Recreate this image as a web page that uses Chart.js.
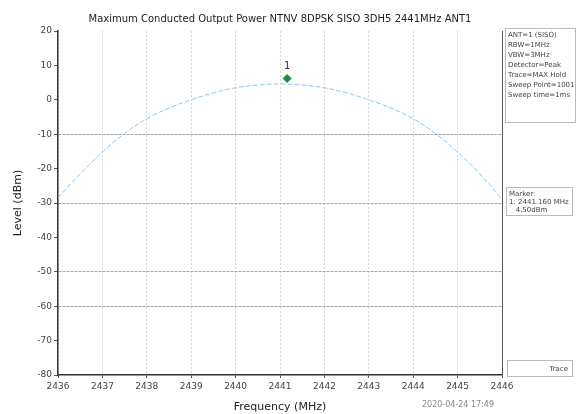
<!DOCTYPE html>
<html>
<head>
<meta charset="utf-8">
<script src="https://cdn.jsdelivr.net/npm/chart.js@4/dist/chart.umd.min.js"></script>
<style>
  body { margin: 0; background: #fff; }
  #wrap { width: 578px; height: 414px; }
</style>
</head>
<body>
<div id="wrap"><canvas id="myChart" width="578" height="414"></canvas></div>
<script>
// trace (MHz, dBm)
let freqs = [2436, 2436.5, 2437, 2437.5, 2438, 2438.5, 2439, 2439.5, 2440, 2440.5, 2441,
             2441.5, 2442, 2442.5, 2443, 2443.5, 2444, 2444.5, 2445, 2445.5, 2446];
let levels = [-28.5, -21.5, -15.2, -9.8, -5.5, -2.4, 0, 2, 3.5, 4.3, 4.6,
              4.3, 3.5, 2, 0, -2.4, -5.5, -9.8, -15.2, -21.5, -29];
let markerFreq = [2441.16];
let markerLevel = [6.2];
let xTicks = [2436, 2437, 2438, 2439, 2440, 2441, 2442, 2443, 2444, 2445, 2446];
let yTicks = [20, 10, 0, -10, -20, -30, -40, -50, -60, -70, -80];
let yGridShown = [-10, -30, -50, -60];
let infoLines = ['ANT=1 (SISO)', 'RBW=1MHz', 'VBW=3MHz', 'Detector=Peak', 'Trace=MAX Hold', 'Sweep Point=1001', 'Sweep time=1ms'];
let markerLines = ['Marker:', '1: 2441.160 MHz', '   4.50dBm'];

const titleText = 'Maximum Conducted Output Power NTNV 8DPSK SISO 3DH5 2441MHz ANT1';

const sidePanels = {
    id: 'sidePanels',
    afterDraw(chart) {
        const c = chart.ctx;
        const area = chart.chartArea;
        c.save();
        // title
        c.fillStyle = '#222';
        c.font = '10px "DejaVu Sans"';
        c.textAlign = 'center';
        c.textBaseline = 'middle';
        c.fillText(titleText, (area.left + area.right) / 2, 19);

        // info box
        c.strokeStyle = '#bbb';
        c.lineWidth = 1;
        c.strokeRect(505.5, 28.5, 70, 94);
        c.fillStyle = '#444';
        c.font = '7px "DejaVu Sans"';
        c.textAlign = 'left';
        infoLines.forEach((t, i) => c.fillText(t, 508, 35 + i * 10));

        // marker box
        c.strokeRect(506.5, 187.5, 66, 28);
        markerLines.forEach((t, i) => c.fillText(t, 509, 194 + i * 8, 62));

        // trace legend
        c.strokeRect(507.5, 360.5, 65, 16);
        c.textAlign = 'right';
        c.fillText('Trace', 568, 369);

        // timestamp
        c.font = '8px "DejaVu Sans"';
        c.fillStyle = '#888';
        c.textAlign = 'center';
        c.fillText('2020-04-24 17:49', 458, 405);

        // marker label
        const xs = chart.scales.x, ys = chart.scales.y;
        c.fillStyle = '#333';
        c.font = '10px "DejaVu Sans"';
        c.fillText('1', xs.getPixelForValue(markerFreq[0]), ys.getPixelForValue(markerLevel[0]) - 12);

        // right frame line
        c.strokeStyle = '#555';
        c.beginPath();
        c.moveTo(area.right + 0.5, area.top);
        c.lineTo(area.right + 0.5, area.bottom);
        c.stroke();
        c.restore();
    }
};

let myChart = document.getElementById('myChart').getContext('2d');
let levelChart = new Chart(myChart, {
    type: 'line',
    data: {
        datasets: [{
            label: 'Trace',
            data: freqs.map((f, i) => ({x: f, y: levels[i]})),
            borderColor: '#8cc8f0',
            borderWidth: 1,
            borderDash: [5, 2],
            pointRadius: 0,
            tension: 0.4,
            fill: false
        }, {
            label: 'Marker',
            data: markerFreq.map((f, i) => ({x: f, y: markerLevel[i]})),
            showLine: false,
            pointStyle: 'rectRot',
            pointRadius: 4,
            backgroundColor: '#1e8a3c',
            borderColor: '#1e8a3c'
        }]
    },
    options: {
        responsive: false,
        animation: false,
        layout: { padding: { left: 12, right: 76, top: 31, bottom: 0 } },
        plugins: {
            legend: { display: false },
            tooltip: { enabled: false }
        },
        scales: {
            x: {
                type: 'linear',
                min: xTicks[0],
                max: xTicks[xTicks.length - 1],
                afterBuildTicks: (axis) => { axis.ticks = xTicks.map(v => ({value: v})); },
                afterFit: (axis) => { axis.height = 39; },
                grid: { color: '#d6d6d6', lineWidth: 1, tickLength: 3, tickColor: '#555' },
                border: { color: '#333', width: 1.5, dash: [2, 2] },
                ticks: {
                    color: '#444',
                    font: { size: 9, family: 'DejaVu Sans' },
                    maxRotation: 0,
                    padding: 3,
                    callback: (v) => String(v)
                },
                title: {
                    display: true,
                    text: 'Frequency (MHz)',
                    color: '#222',
                    font: { size: 11, family: 'DejaVu Sans' },
                    padding: { top: 2, bottom: 0 }
                }
            },
            y: {
                min: -80,
                max: 20,
                afterBuildTicks: (axis) => { axis.ticks = yTicks.map(v => ({value: v})); },
                afterFit: (axis) => { axis.width = 46; },
                grid: {
                    color: (ctx) => yGridShown.includes(ctx.tick && ctx.tick.value) ? '#a8a8a8' : 'rgba(0,0,0,0)',
                    lineWidth: 1,
                    tickLength: 4,
                    tickColor: '#555'
                },
                border: { color: '#333', width: 1.5, dash: [3, 1] },
                ticks: {
                    color: '#444',
                    font: { size: 9, family: 'DejaVu Sans' },
                    padding: 2,
                    callback: (v) => String(v)
                },
                title: {
                    display: true,
                    text: 'Level (dBm)',
                    color: '#222',
                    font: { size: 11, family: 'DejaVu Sans' },
                    padding: { top: 0, bottom: 2 }
                }
            }
        }
    },
    plugins: [sidePanels]
});
</script>
</body>
</html>
